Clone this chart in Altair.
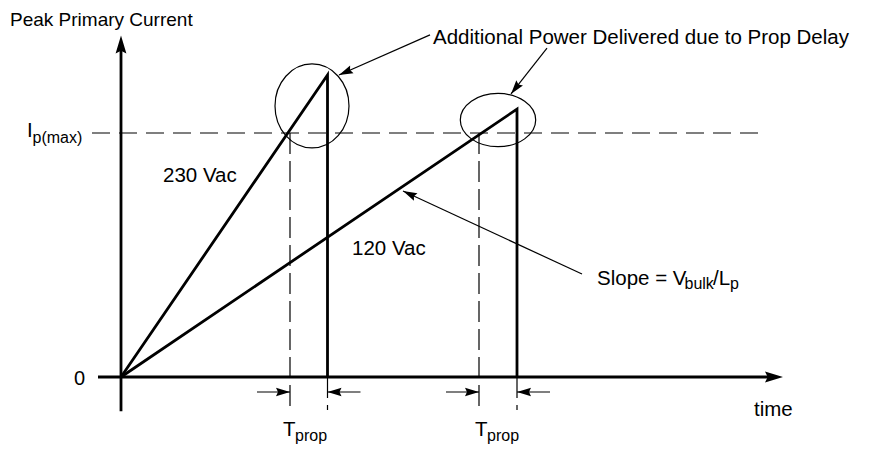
import math
import altair as alt
import pandas as pd

# ---- values (time in arbitrary units, current relative to Ip(max)) ----
ramp_labels = ["230 Vac", "120 Vac"]
t_cross = [1.69, 3.58]        # ramp reaches Ip(max)
t_end = [2.065, 3.96]         # switch actually turns off (after prop delay)
i_peak = [1.238, 1.098]       # peak current reached
ip_max = 1.0

x_axis_span = [-0.23, 6.62]
y_axis_span = [-0.14, 1.40]
ipmax_span = [-0.29, 6.46]
guide_bottom = -0.135
tprop_arrow_level = -0.0615
tprop_arrow_len = 0.33

ellipse_t = [1.91, 3.77]
ellipse_i = [1.111, 1.053]
ellipse_rx = [0.37, 0.377]
ellipse_ry = [0.172, 0.109]

callout_tail_t = [3.09, 4.26, 4.61]
callout_tail_i = [1.402, 1.348, 0.422]
callout_tip_t = [2.18, 3.90, 2.82]
callout_tip_i = [1.238, 1.160, 0.762]

label_text = ["Peak Primary Current", "Additional Power Delivered due to Prop Delay",
              "I", "p(max)", "0", "230 Vac", "120 Vac",
              "Slope = V", "bulk", "/L", "p",
              "T", "prop", "T", "prop", "time"]
label_t = [-1.11, 3.12, -0.94, -0.885, -0.36, 0.42, 2.31,
           4.76, 5.635, 5.92, 6.09, 1.62, 1.74, 3.54, 3.66, 6.33]
label_i = [1.439, 1.365, 0.985, 0.957, -0.033, 0.799, 0.5,
           0.377, 0.361, 0.377, 0.361, -0.242, -0.262, -0.242, -0.262, -0.16]
label_size = [19, 20.5, 20.5, 16, 20, 20.5, 20.5, 20.5, 16, 20.5, 16, 20.5, 16, 20.5, 16, 20.5]
label_align = ["left", "left", "left", "left", "right", "left", "left",
               "left", "left", "left", "left", "left", "left", "left", "left", "left"]

# ---- layout ----
W, H = 855, 441
PX_T, PX_I = 100.0, 244.0
X0, Y0 = 113.0, 369.0
XD = [-X0 / PX_T, (W - X0) / PX_T]
YD = [(Y0 - H) / PX_I, Y0 / PX_I]

xs = alt.Scale(domain=XD, nice=False, zero=False)
ys = alt.Scale(domain=YD, nice=False, zero=False)


def X(f):
    return alt.X(f, type="quantitative", scale=xs, axis=None)


def Y(f):
    return alt.Y(f, type="quantitative", scale=ys, axis=None)


def heading(t0, i0, t1, i1):
    dx = (t1 - t0) * PX_T
    dy = -(i1 - i0) * PX_I
    return (math.degrees(math.atan2(dx, -dy)) + 360) % 360


# segments
axis_trim_t = 12 / PX_T
axis_trim_i = 12 / PX_I
axes_df = pd.DataFrame({
    "x": [x_axis_span[0], 0.0],
    "x2": [x_axis_span[1] - axis_trim_t, 0.0],
    "y": [0.0, y_axis_span[0]],
    "y2": [0.0, y_axis_span[1] - axis_trim_i],
})

ramp_rows = []
for name, te, ip in zip(ramp_labels, t_end, i_peak):
    ramp_rows += [{"name": name, "o": 0, "t": 0.0, "i": 0.0},
                  {"name": name, "o": 1, "t": te, "i": ip},
                  {"name": name, "o": 2, "t": te, "i": 0.0}]
ramp_df = pd.DataFrame(ramp_rows)

hdash_df = pd.DataFrame({"x": [ipmax_span[0]], "x2": [ipmax_span[1]], "y": [ip_max], "y2": [ip_max]})
vdash_df = pd.DataFrame({
    "x": t_cross + t_end, "x2": t_cross + t_end,
    "y": [ip_max] * len(t_cross) + [0.0] * len(t_end),
    "y2": [guide_bottom] * (len(t_cross) + len(t_end)),
})

# thin arrows: tprop markers + callouts
arr_tail_t, arr_tail_i, arr_tip_t, arr_tip_i = [], [], [], []
for tc, te in zip(t_cross, t_end):
    arr_tail_t += [tc - tprop_arrow_len, te + tprop_arrow_len]
    arr_tip_t += [tc, te]
    arr_tail_i += [tprop_arrow_level] * 2
    arr_tip_i += [tprop_arrow_level] * 2
arr_tail_t += callout_tail_t
arr_tail_i += callout_tail_i
arr_tip_t += callout_tip_t
arr_tip_i += callout_tip_i
arrows_df = pd.DataFrame({"x": arr_tail_t, "y": arr_tail_i, "x2": arr_tip_t, "y2": arr_tip_i})
arrows_df["angle"] = [heading(a, b, c, d) for a, b, c, d in zip(arr_tail_t, arr_tail_i, arr_tip_t, arr_tip_i)]

axis_heads_df = pd.DataFrame({
    "x": [x_axis_span[1], 0.0], "y": [0.0, y_axis_span[1]], "angle": [90.0, 0.0]})

HEAD_BIG = "M0,0 L0.6,2 L0,1.7 L-0.6,2 Z"
HEAD_SMALL = "M0,0 L0.6,2 L0,1.72 L-0.6,2 Z"

rule_axes = alt.Chart(axes_df).mark_rule(color="black", strokeWidth=2.8).encode(
    x=X("x"), x2="x2", y=Y("y"), y2="y2")
ramps = alt.Chart(ramp_df).mark_line(color="black", strokeWidth=2.8, strokeJoin="miter").encode(
    x=X("t"), y=Y("i"), detail="name:N", order="o:Q")
hdash = alt.Chart(hdash_df).mark_rule(color="black", strokeWidth=1.2, strokeDash=[18, 9]).encode(
    x=X("x"), x2="x2", y=Y("y"), y2="y2")
vdash = alt.Chart(vdash_df).mark_rule(color="black", strokeWidth=1.2, strokeDash=[21, 7]).encode(
    x=X("x"), x2="x2", y=Y("y"), y2="y2")
shafts = alt.Chart(arrows_df).mark_rule(color="black", strokeWidth=1.2).encode(
    x=X("x"), x2="x2", y=Y("y"), y2="y2")
heads = alt.Chart(arrows_df).mark_point(
    shape=HEAD_SMALL, size=196, filled=True, color="black", opacity=1, strokeWidth=0).encode(
    x=X("x2"), y=Y("y2"), angle=alt.Angle("angle:Q", scale=None))
axis_heads = alt.Chart(axis_heads_df).mark_point(
    shape=HEAD_BIG, size=324, filled=True, color="black", opacity=1, strokeWidth=0).encode(
    x=X("x"), y=Y("y"), angle=alt.Angle("angle:Q", scale=None))

ellipses = []
for ct, ci, rx, ry in zip(ellipse_t, ellipse_i, ellipse_rx, ellipse_ry):
    rxp, ryp = rx * PX_T, ry * PX_I
    s = max(rxp, ryp)
    a, b = rxp / s, ryp / s
    path = f"M{-a:.4f},0 A{a:.4f},{b:.4f} 0 0,1 {a:.4f},0 A{a:.4f},{b:.4f} 0 0,1 {-a:.4f},0 Z"
    edf = pd.DataFrame({"t": [ct], "i": [ci]})
    ellipses.append(alt.Chart(edf).mark_point(
        shape=path, size=(2 * s) ** 2, filled=False, color="black", opacity=1, strokeWidth=1.2
    ).encode(x=X("t"), y=Y("i")))

labels_df = pd.DataFrame({"text": label_text, "t": label_t, "i": label_i,
                          "size": label_size, "align": label_align})
text_layers = []
for al in ["left", "right"]:
    sub = labels_df[labels_df["align"] == al]
    text_layers.append(alt.Chart(sub).mark_text(
        align=al, baseline="alphabetic", font="Liberation Sans", color="black").encode(
        x=X("t"), y=Y("i"), text="text:N", size=alt.Size("size:Q", scale=None)))

chart = alt.layer(
    hdash, vdash, rule_axes, axis_heads, ramps, *ellipses, shafts, heads, *text_layers
).properties(
    width=W, height=H, padding=0, autosize=alt.AutoSizeParams(type="none"), background="white"
).configure_view(stroke=None)

chart.save("out.html", embed_options={"renderer": "svg", "actions": False})
